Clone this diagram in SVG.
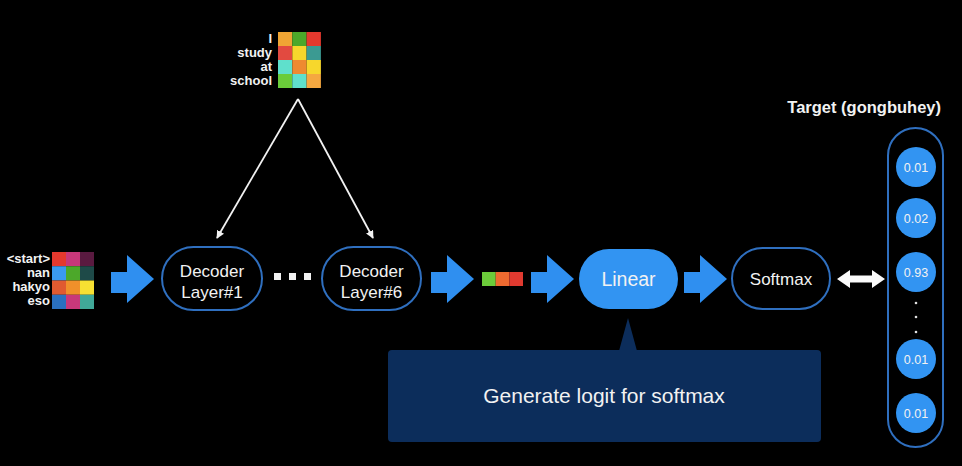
<svg xmlns="http://www.w3.org/2000/svg" width="962" height="466" viewBox="0 0 962 466">
<defs>
<style>
.lbl{font-family:"Liberation Sans",Arial,sans-serif;font-weight:bold;font-size:13px;fill:#f2f2f2;text-anchor:end}
.txt{font-family:"Liberation Sans",Arial,sans-serif;fill:#f2f2f2;text-anchor:middle}
.node{fill:#000;stroke:#2f6fbf;stroke-width:2}
.big{fill:#2f8ff0}
.num{font-family:"Liberation Sans",Arial,sans-serif;font-size:12.5px;fill:#f2f2f2;text-anchor:middle}
.conn{stroke:#f2f2f2;stroke-width:1.8;fill:none}
</style>
<marker id="ah" viewBox="0 0 10 10" refX="9" refY="5" markerWidth="8" markerHeight="8" orient="auto" markerUnits="userSpaceOnUse">
<path d="M0,0 L10,5 L0,10 z" fill="#f2f2f2"/>
</marker>
<polygon id="barrow" points="0,17 16,17 16,0 43,24 16,48 16,38 0,38"/>
</defs>
<rect width="962" height="466" fill="#000"/>

<g id="top-matrix">
<text class="lbl" x="272" y="43">I</text>
<text class="lbl" x="272" y="57">study</text>
<text class="lbl" x="272" y="71">at</text>
<text class="lbl" x="272" y="85">school</text>
<rect x="278" y="32" width="14.3" height="14" fill="#f0a534"/>
<rect x="292.3" y="32" width="14.3" height="14" fill="#4ca82a"/>
<rect x="306.6" y="32" width="14.3" height="14" fill="#e5392e"/>
<rect x="278" y="46" width="14.3" height="14" fill="#e24a40"/>
<rect x="292.3" y="46" width="14.3" height="14" fill="#f7d72c"/>
<rect x="306.6" y="46" width="14.3" height="14" fill="#3b9a92"/>
<rect x="278" y="60" width="14.3" height="14" fill="#5fe0cc"/>
<rect x="292.3" y="60" width="14.3" height="14" fill="#ee8a30"/>
<rect x="306.6" y="60" width="14.3" height="14" fill="#f7d72c"/>
<rect x="278" y="74" width="14.3" height="14" fill="#6acc3a"/>
<rect x="292.3" y="74" width="14.3" height="14" fill="#5fe0cc"/>
<rect x="306.6" y="74" width="14.3" height="14" fill="#f5a840"/>
</g>

<g id="input-matrix">
<text class="lbl" x="50" y="263">&lt;start&gt;</text>
<text class="lbl" x="50" y="277">nan</text>
<text class="lbl" x="50" y="291">hakyo</text>
<text class="lbl" x="50" y="305">eso</text>
<rect x="52" y="252" width="14" height="14.25" fill="#e5392e"/>
<rect x="66" y="252" width="14" height="14.25" fill="#c8387a"/>
<rect x="80" y="252" width="14" height="14.25" fill="#5a1a40"/>
<rect x="52" y="266.25" width="14" height="14.25" fill="#3a9af0"/>
<rect x="66" y="266.25" width="14" height="14.25" fill="#4ca82a"/>
<rect x="80" y="266.25" width="14" height="14.25" fill="#1e4a48"/>
<rect x="52" y="280.5" width="14" height="14.25" fill="#e05a30"/>
<rect x="66" y="280.5" width="14" height="14.25" fill="#f0902a"/>
<rect x="80" y="280.5" width="14" height="14.25" fill="#f7e032"/>
<rect x="52" y="294.75" width="14" height="14.25" fill="#2a70c0"/>
<rect x="66" y="294.75" width="14" height="14.25" fill="#c8387a"/>
<rect x="80" y="294.75" width="14" height="14.25" fill="#40a898"/>
</g>

<g id="decoder1">
<rect class="node" x="162" y="247" width="100" height="63" rx="31.5"/>
<text class="txt" x="212" y="277" font-size="17">Decoder</text>
<text class="txt" x="212" y="298" font-size="17">Layer#1</text>
</g>

<g id="ellipsis">
<rect x="274" y="273" width="7" height="7" fill="#f2f2f2"/>
<rect x="289" y="273" width="7" height="7" fill="#f2f2f2"/>
<rect x="304" y="273" width="7" height="7" fill="#f2f2f2"/>
</g>

<g id="decoder6">
<rect class="node" x="322" y="247" width="99" height="63" rx="31.5"/>
<text class="txt" x="371.5" y="277" font-size="17">Decoder</text>
<text class="txt" x="371.5" y="298" font-size="17">Layer#6</text>
</g>

<g id="output-vector">
<rect x="482" y="272" width="13.7" height="14" fill="#6ccb3a"/>
<rect x="495.7" y="272" width="13.7" height="14" fill="#ee6a30"/>
<rect x="509.4" y="272" width="13.6" height="14" fill="#e03a30"/>
</g>

<g id="linear">
<rect x="579" y="249" width="99" height="60" rx="30" fill="#3294f2"/>
<text class="txt" x="628.5" y="286" font-size="19.5" fill="#fff">Linear</text>
</g>

<g id="softmax">
<rect class="node" x="732" y="248" width="98" height="61" rx="30.5"/>
<text class="txt" x="781" y="285" font-size="17">Softmax</text>
</g>

<g id="target">
<text class="lbl" x="941" y="113" style="font-size:16.5px">Target (gongbuhey)</text>
<rect class="node" x="888" y="128" width="55" height="319" rx="27.5"/>
<circle cx="916" cy="167" r="20" fill="#3294f2"/>
<text class="num" x="916" y="171.5">0.01</text>
<circle cx="916" cy="218" r="20" fill="#3294f2"/>
<text class="num" x="916" y="222.5">0.02</text>
<circle cx="916" cy="272" r="20" fill="#3294f2"/>
<text class="num" x="916" y="276.5">0.93</text>
<circle cx="916" cy="303" r="1.3" fill="#e0e0e0"/>
<circle cx="916" cy="317" r="1.3" fill="#e0e0e0"/>
<circle cx="916" cy="332" r="1.3" fill="#e0e0e0"/>
<circle cx="916" cy="359" r="20" fill="#3294f2"/>
<text class="num" x="916" y="363.5">0.01</text>
<circle cx="916" cy="413" r="20" fill="#3294f2"/>
<text class="num" x="916" y="417.5">0.01</text>
</g>

<g id="callout">
<polygon points="628,318 619,351 637,351" fill="#0c2d5b"/>
<rect x="388" y="350" width="433" height="92" rx="4" fill="#0c2d5b"/>
<text class="txt" x="604" y="403" font-size="21">Generate logit for softmax</text>
</g>

<g id="connectors">
<use href="#barrow" x="111" y="255" class="big"/>
<use href="#barrow" x="431" y="255" class="big"/>
<use href="#barrow" x="531" y="255" class="big"/>
<use href="#barrow" x="684" y="255" class="big"/>
<polygon points="837,279 850,270 850,275.5 872,275.5 872,270 885,279 872,288 872,282.5 850,282.5 850,288" fill="#fafafa"/>
<line class="conn" x1="298" y1="99" x2="217" y2="238" marker-end="url(#ah)"/>
<line class="conn" x1="298" y1="99" x2="373" y2="238" marker-end="url(#ah)"/>
</g>
</svg>
